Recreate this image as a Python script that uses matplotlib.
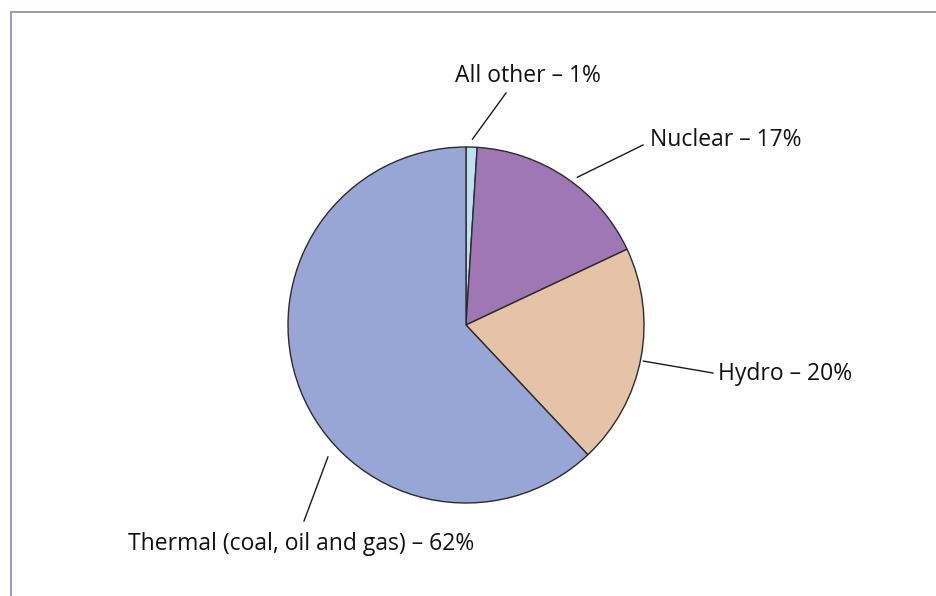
import numpy as np
import matplotlib
matplotlib.use("Agg")
import matplotlib.pyplot as plt
from matplotlib.lines import Line2D

# Data
categories = ["All other", "Nuclear", "Hydro", "Thermal (coal, oil and gas)"]
shares = [1, 17, 20, 62]
labels = ["All other – 1%", "Nuclear – 17%", "Hydro – 20%", "Thermal (coal, oil and gas) – 62%"]

colors = ["#BEE0F0", "#9E77B4", "#E4C3A7", "#98A6D5"]

W, H = 936, 596
fig = plt.figure(figsize=(W / 100, H / 100), dpi=100)
ax = fig.add_axes([0, 0, 1, 1])

cx, cy, R = 466, H - 325, 178
wedges, _ = ax.pie(shares, colors=colors, startangle=90, counterclock=False,
                   center=(cx, cy), radius=R, frame=True,
                   wedgeprops=dict(edgecolor="#2b2b2b", linewidth=1.0))
ax.set_xlim(0, W)
ax.set_ylim(0, H)
ax.set_aspect("equal")
ax.axis("off")

# leader line specs: (start angle deg, start radius, end point px, text pos px)
leaders = [
    (88.0, 186, (506, 93), (455, 76)),
    (53.0, 185, (643, 145), (650, 140)),
    (-11.5, 181, (713, 373), (718, 374)),
    (-136.3, 191, (304, 521), (128, 544)),
]
for lab, (ang, r, endp, tpos) in zip(labels, leaders):
    a = np.deg2rad(ang)
    x0, y0 = cx + r * np.cos(a), cy + r * np.sin(a)
    ax.plot([x0, endp[0]], [y0, H - endp[1]], color="#1a1a1a", lw=1.0)
    ax.text(tpos[0], H - tpos[1], lab, ha="left", va="center", fontsize=16.5,
            family=["Open Sans", "DejaVu Sans"], color="#111111")

# frame lines (top and left)
fig.add_artist(Line2D([11 / W, 1], [1 - 12 / H, 1 - 12 / H], color="#9C9CC6", lw=1.5,
                      transform=fig.transFigure))
fig.add_artist(Line2D([11 / W, 11 / W], [0, 1 - 12 / H], color="#9C9CC6", lw=1.5,
                      transform=fig.transFigure))

fig.savefig("out.png", dpi=100)
